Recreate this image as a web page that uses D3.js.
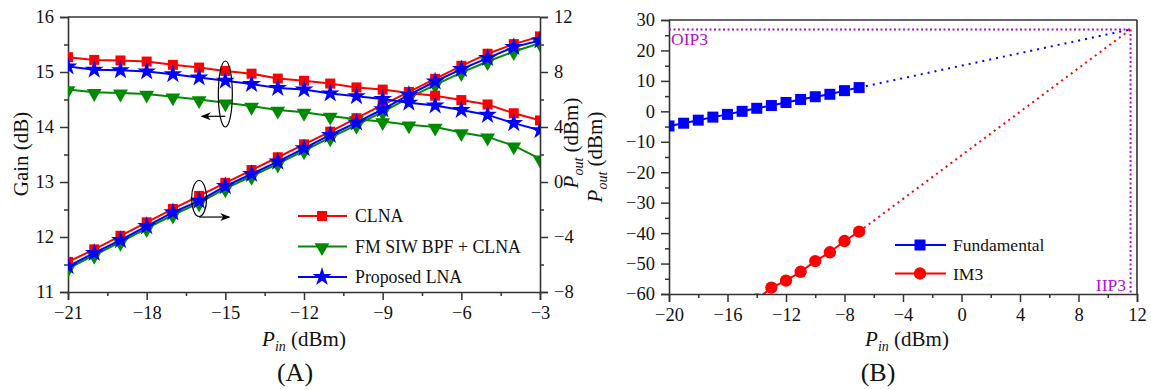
<!DOCTYPE html>
<html><head><meta charset="utf-8">
<script src="https://cdn.jsdelivr.net/npm/d3@7"></script>
<style>
body{margin:0;background:#fff;}
svg{display:block;font-family:"Liberation Serif","Times New Roman",serif;}
</style></head>
<body>
<svg id="c" width="1151" height="390"></svg>
<script>
// ---------- Data: panel A ----------
const pinA = [-21,-20,-19,-18,-17,-16,-15,-14,-13,-12,-11,-10,-9,-8,-7,-6,-5,-4,-3];
const clnaGain = [15.27,15.22,15.21,15.19,15.13,15.08,15.02,14.97,14.88,14.84,14.79,14.72,14.68,14.62,14.57,14.49,14.41,14.25,14.12];
const fmGain   = [14.68,14.63,14.62,14.60,14.55,14.50,14.44,14.38,14.31,14.27,14.20,14.14,14.10,14.04,14.00,13.90,13.82,13.66,13.42];
const propGain = [15.10,15.04,15.03,15.01,14.96,14.90,14.84,14.78,14.71,14.68,14.61,14.56,14.51,14.44,14.39,14.31,14.22,14.07,13.94];
const clnaPout = [-5.81,-4.90,-3.91,-2.93,-1.96,-1.01,-0.06,0.87,1.80,2.74,3.66,4.64,5.61,6.55,7.50,8.45,9.33,10.03,10.59];
const fmPout   = [-6.30,-5.32,-4.38,-3.38,-2.40,-1.52,-0.48,0.42,1.32,2.28,3.22,4.14,5.10,6.12,7.07,7.96,8.76,9.49,10.10];
const propPout = [-6.13,-5.16,-4.23,-3.21,-2.21,-1.37,-0.30,0.58,1.48,2.45,3.42,4.32,5.29,6.33,7.31,8.21,9.01,9.81,10.29];
const seriesNamesA = ["CLNA","FM SIW BPF + CLNA","Proposed LNA"];
const xTicksA = [-21,-18,-15,-12,-9,-6,-3];
const gainTicks = [11,12,13,14,15,16];
const poutTicks = [-8,-4,0,4,8,12];

// ---------- Data: panel B ----------
const pinFund = [-20,-19,-18,-17,-16,-15,-14,-13,-12,-11,-10,-9,-8,-7];
const fundOut = [-4.8,-3.9,-2.9,-1.9,-1.0,0.0,1.0,1.9,2.9,3.9,4.8,5.6,6.8,7.8];
const pinIM3 = [-14,-13,-12,-11,-10,-9,-8,-7];
const im3Out = [-61.8,-57.9,-55.6,-52.7,-49.2,-46.3,-42.6,-39.5];
const fundExtX = [-7, 11.56], fundExtY = [7.8, 26.9];
const im3ExtX = [-7, 11.56], im3ExtY = [-39.5, 26.9];
const iip3 = 11.56, oip3 = 26.9;
const seriesNamesB = ["Fundamental","IM3"];
const xTicksB = [-20,-16,-12,-8,-4,0,4,8,12];
const yTicksB = [30,20,10,0,-10,-20,-30,-40,-50,-60];

const svg = d3.select("#c");
const AX = "#333";
const RED = "#ff0000", GREEN = "#008a00", BLUE = "#0000ff", PURPLE = "#b010d0";
const fmt = d3.format("");
const TICKFS = 18.5;

function minors(majors){
  const out=[]; for(let i=0;i<majors.length-1;i++){ out.push((majors[i]+majors[i+1])/2); } return out;
}
function styleAxis(g, fs){
  g.selectAll(".domain").attr("stroke",AX).attr("stroke-width",1.6);
  g.selectAll(".tick line").attr("stroke",AX).attr("stroke-width",1.5);
  g.selectAll(".tick text").attr("fill","#111").style("font-size",fs+"px").style("font-family","Liberation Serif");
}
function addAxis(gen, ticks, transform, fs, pad){
  const g = svg.append("g").attr("transform",transform)
    .call(gen.tickValues(ticks).tickSize(8).tickPadding(pad).tickFormat(fmt));
  styleAxis(g, fs); return g;
}
function addMinor(gen, ticks, transform){
  const g = svg.append("g").attr("transform",transform)
    .call(gen.tickValues(ticks).tickSize(4).tickFormat(""));
  g.select(".domain").remove();
  g.selectAll(".tick line").attr("stroke",AX).attr("stroke-width",1.5);
}

// ================= Panel A =================
const A = {l:68, r:540, t:17, b:292};
const xA = d3.scaleLinear().domain([-21,-3]).range([A.l,A.r]);
const yG = d3.scaleLinear().domain([11,16]).range([A.b,A.t]);
const yP = d3.scaleLinear().domain([-8,12]).range([A.b,A.t]);

svg.append("clipPath").attr("id","clipA").append("rect")
  .attr("x",A.l).attr("y",A.t).attr("width",A.r-A.l).attr("height",A.b-A.t);

svg.append("line").attr("x1",A.l).attr("x2",A.r).attr("y1",A.t).attr("y2",A.t).attr("stroke",AX).attr("stroke-width",1.6);

addMinor(d3.axisBottom(xA), minors(xTicksA), `translate(0,${A.b})`);
addAxis(d3.axisBottom(xA), xTicksA, `translate(0,${A.b})`, TICKFS, 6);
addMinor(d3.axisLeft(yG), minors(gainTicks), `translate(${A.l},0)`);
addAxis(d3.axisLeft(yG), gainTicks, `translate(${A.l},0)`, TICKFS, 6);
addMinor(d3.axisRight(yP), minors(poutTicks), `translate(${A.r},0)`);
addAxis(d3.axisRight(yP), poutTicks, `translate(${A.r},0)`, TICKFS, 6);

const plotA = svg.append("g").attr("clip-path","url(#clipA)");
const seriesA = [
  {vals:clnaGain, y:yG, color:RED, shape:"sq"},
  {vals:fmGain, y:yG, color:GREEN, shape:"tri"},
  {vals:propGain, y:yG, color:BLUE, shape:"star"},
  {vals:clnaPout, y:yP, color:RED, shape:"sq"},
  {vals:fmPout, y:yP, color:GREEN, shape:"tri"},
  {vals:propPout, y:yP, color:BLUE, shape:"star"}
];
function markerPath(shape){
  if(shape==="sq") return d3.symbol().type(d3.symbolSquare).size(100)();
  if(shape==="tri") return d3.symbol().type(d3.symbolTriangle).size(95)();
  if(shape==="star") return d3.symbol().type(d3.symbolStar).size(110)();
  return d3.symbol().type(d3.symbolCircle).size(120)();
}
function markerTransform(shape,x,y){
  return shape==="tri" ? `translate(${x},${y+1}) rotate(180)` : `translate(${x},${y})`;
}
const orderA = [1,4,0,3,2,5];
orderA.forEach(i=>{
  const s = seriesA[i];
  const pts = pinA.map((p,j)=>[xA(p), s.y(s.vals[j])]);
  plotA.append("path").attr("d",d3.line()(pts)).attr("fill","none").attr("stroke",s.color).attr("stroke-width",2);
  plotA.selectAll(null).data(pts).enter().append("path")
    .attr("d",markerPath(s.shape)).attr("transform",d=>markerTransform(s.shape,d[0],d[1]))
    .attr("fill",s.color);
});

// annotation ellipses & arrows
const defs = svg.append("defs");
defs.append("marker").attr("id","arr").attr("viewBox","0 0 10 10").attr("refX",9).attr("refY",5)
  .attr("markerWidth",10).attr("markerHeight",10).attr("markerUnits","userSpaceOnUse").attr("orient","auto")
  .append("path").attr("d","M0,1 L10,5 L0,9 L3,5 Z").attr("fill","#000");
svg.append("ellipse").attr("cx",xA(-15)).attr("cy",yG(14.6)).attr("rx",7).attr("ry",33)
  .attr("fill","none").attr("stroke","#000").attr("stroke-width",1.2);
svg.append("line").attr("x1",xA(-15)).attr("y1",yG(14.2)+0.3).attr("x2",xA(-15.9)).attr("y2",yG(14.2)+0.3)
  .attr("stroke","#000").attr("stroke-width",1.2).attr("marker-end","url(#arr)");
svg.append("ellipse").attr("cx",xA(-16)).attr("cy",yP(-1.2)).attr("rx",7.5).attr("ry",18)
  .attr("fill","none").attr("stroke","#000").attr("stroke-width",1.2);
svg.append("line").attr("x1",xA(-16)).attr("y1",yP(-2.55)).attr("x2",xA(-14.85)).attr("y2",yP(-2.55))
  .attr("stroke","#000").attr("stroke-width",1.2).attr("marker-end","url(#arr)");

// legend A
const legA = [{c:RED,s:"sq"},{c:GREEN,s:"tri"},{c:BLUE,s:"star"}];
legA.forEach((d,i)=>{
  const y = 216 + i*30.5;
  svg.append("line").attr("x1",298).attr("x2",347).attr("y1",y).attr("y2",y).attr("stroke",d.c).attr("stroke-width",2);
  svg.append("path").attr("d",markerPath(d.s)).attr("transform",markerTransform(d.s,322,y)).attr("fill",d.c);
  svg.append("text").attr("x",355).attr("y",y).attr("dy","0.35em").style("font-size","17.8px").attr("fill","#111").text(seriesNamesA[i]);
});

// axis titles A
svg.append("text").attr("transform","translate(28,154) rotate(-90)").attr("text-anchor","middle")
  .style("font-size","21px").attr("fill","#111").text("Gain (dB)");
function pTitle(sel, sub){
  sel.append("tspan").style("font-style","italic").text("P");
  sel.append("tspan").style("font-style","italic").style("font-size","14px").attr("dy",5).text(sub);
  sel.append("tspan").attr("dy",-5).text(" (dBm)");
}
pTitle(svg.append("text").attr("x",304).attr("y",346).attr("text-anchor","middle").style("font-size","21px").attr("fill","#111"), "in");
pTitle(svg.append("text").attr("transform","translate(578,143) rotate(-90)").attr("text-anchor","middle").style("font-size","21px").attr("fill","#111"), "out");
svg.append("text").attr("x",295).attr("y",381).attr("text-anchor","middle").style("font-size","26px").attr("fill","#111").text("(A)");

// ================= Panel B =================
const B = {l:669, r:1137, t:20, b:294};
const xB = d3.scaleLinear().domain([-20,12]).range([B.l,B.r]);
const yB = d3.scaleLinear().domain([-60,30]).range([B.b,B.t]);
svg.append("clipPath").attr("id","clipB").append("rect")
  .attr("x",B.l).attr("y",B.t).attr("width",B.r-B.l).attr("height",B.b-B.t);

svg.append("line").attr("x1",B.l).attr("x2",B.r).attr("y1",B.t).attr("y2",B.t).attr("stroke",AX).attr("stroke-width",1.6);
svg.append("line").attr("x1",B.r).attr("x2",B.r).attr("y1",B.t).attr("y2",B.b).attr("stroke",AX).attr("stroke-width",1.6);
addMinor(d3.axisBottom(xB), minors(xTicksB), `translate(0,${B.b})`);
addAxis(d3.axisBottom(xB), xTicksB, `translate(0,${B.b})`, TICKFS, 6);
const yTB = yTicksB.slice().reverse();
addMinor(d3.axisLeft(yB), minors(yTB), `translate(${B.l},0)`);
addAxis(d3.axisLeft(yB), yTB, `translate(${B.l},0)`, TICKFS, 6);

const plotB = svg.append("g").attr("clip-path","url(#clipB)");
plotB.append("line").attr("x1",B.l).attr("x2",xB(iip3)).attr("y1",yB(oip3)).attr("y2",yB(oip3))
  .attr("stroke",PURPLE).attr("stroke-width",2).attr("stroke-dasharray","2,2.5");
plotB.append("line").attr("x1",xB(iip3)).attr("x2",xB(iip3)).attr("y1",yB(oip3)).attr("y2",B.b)
  .attr("stroke",PURPLE).attr("stroke-width",2).attr("stroke-dasharray","2,2.5");
plotB.append("path").attr("d",d3.line()(fundExtX.map((x,i)=>[xB(x),yB(fundExtY[i])])))
  .attr("stroke",BLUE).attr("stroke-width",2).attr("fill","none").attr("stroke-dasharray","2,5");
plotB.append("path").attr("d",d3.line()(im3ExtX.map((x,i)=>[xB(x),yB(im3ExtY[i])])))
  .attr("stroke",RED).attr("stroke-width",2).attr("fill","none").attr("stroke-dasharray","2,4");
const fPts = pinFund.map((p,i)=>[xB(p),yB(fundOut[i])]);
plotB.append("path").attr("d",d3.line()(fPts)).attr("fill","none").attr("stroke",BLUE).attr("stroke-width",2);
plotB.selectAll(null).data(fPts).enter().append("path")
  .attr("d",d3.symbol().type(d3.symbolSquare).size(121)()).attr("transform",d=>`translate(${d[0]},${d[1]})`).attr("fill",BLUE);
const iPts = pinIM3.map((p,i)=>[xB(p),yB(im3Out[i])]);
plotB.append("path").attr("d",d3.line()(iPts)).attr("fill","none").attr("stroke",RED).attr("stroke-width",2);
plotB.selectAll(null).data(iPts).enter().append("path")
  .attr("d",d3.symbol().type(d3.symbolCircle).size(120)()).attr("transform",d=>`translate(${d[0]},${d[1]})`).attr("fill",RED);

svg.append("text").attr("x",671).attr("y",45).style("font-size","17.5px").attr("fill",PURPLE).text("OIP3");
svg.append("text").attr("x",1126).attr("y",291).attr("text-anchor","end").style("font-size","17.5px").attr("fill",PURPLE).text("IIP3");

const legB = [{c:BLUE,t:d3.symbolSquare,s:121},{c:RED,t:d3.symbolCircle,s:120}];
legB.forEach((d,i)=>{
  const y = 245 + i*28.5;
  svg.append("line").attr("x1",895).attr("x2",946).attr("y1",y).attr("y2",y).attr("stroke",d.c).attr("stroke-width",2);
  svg.append("path").attr("d",d3.symbol().type(d.t).size(d.s)()).attr("transform",`translate(920,${y})`).attr("fill",d.c);
  svg.append("text").attr("x",953).attr("y",y).attr("dy","0.35em").style("font-size","17.5px").attr("fill","#111").text(seriesNamesB[i]);
});

pTitle(svg.append("text").attr("x",907).attr("y",346).attr("text-anchor","middle").style("font-size","21px").attr("fill","#111"), "in");
pTitle(svg.append("text").attr("transform","translate(602,157) rotate(-90)").attr("text-anchor","middle").style("font-size","21px").attr("fill","#111"), "out");
svg.append("text").attr("x",878).attr("y",381).attr("text-anchor","middle").style("font-size","26px").attr("fill","#111").text("(B)");
</script>
</body></html>
